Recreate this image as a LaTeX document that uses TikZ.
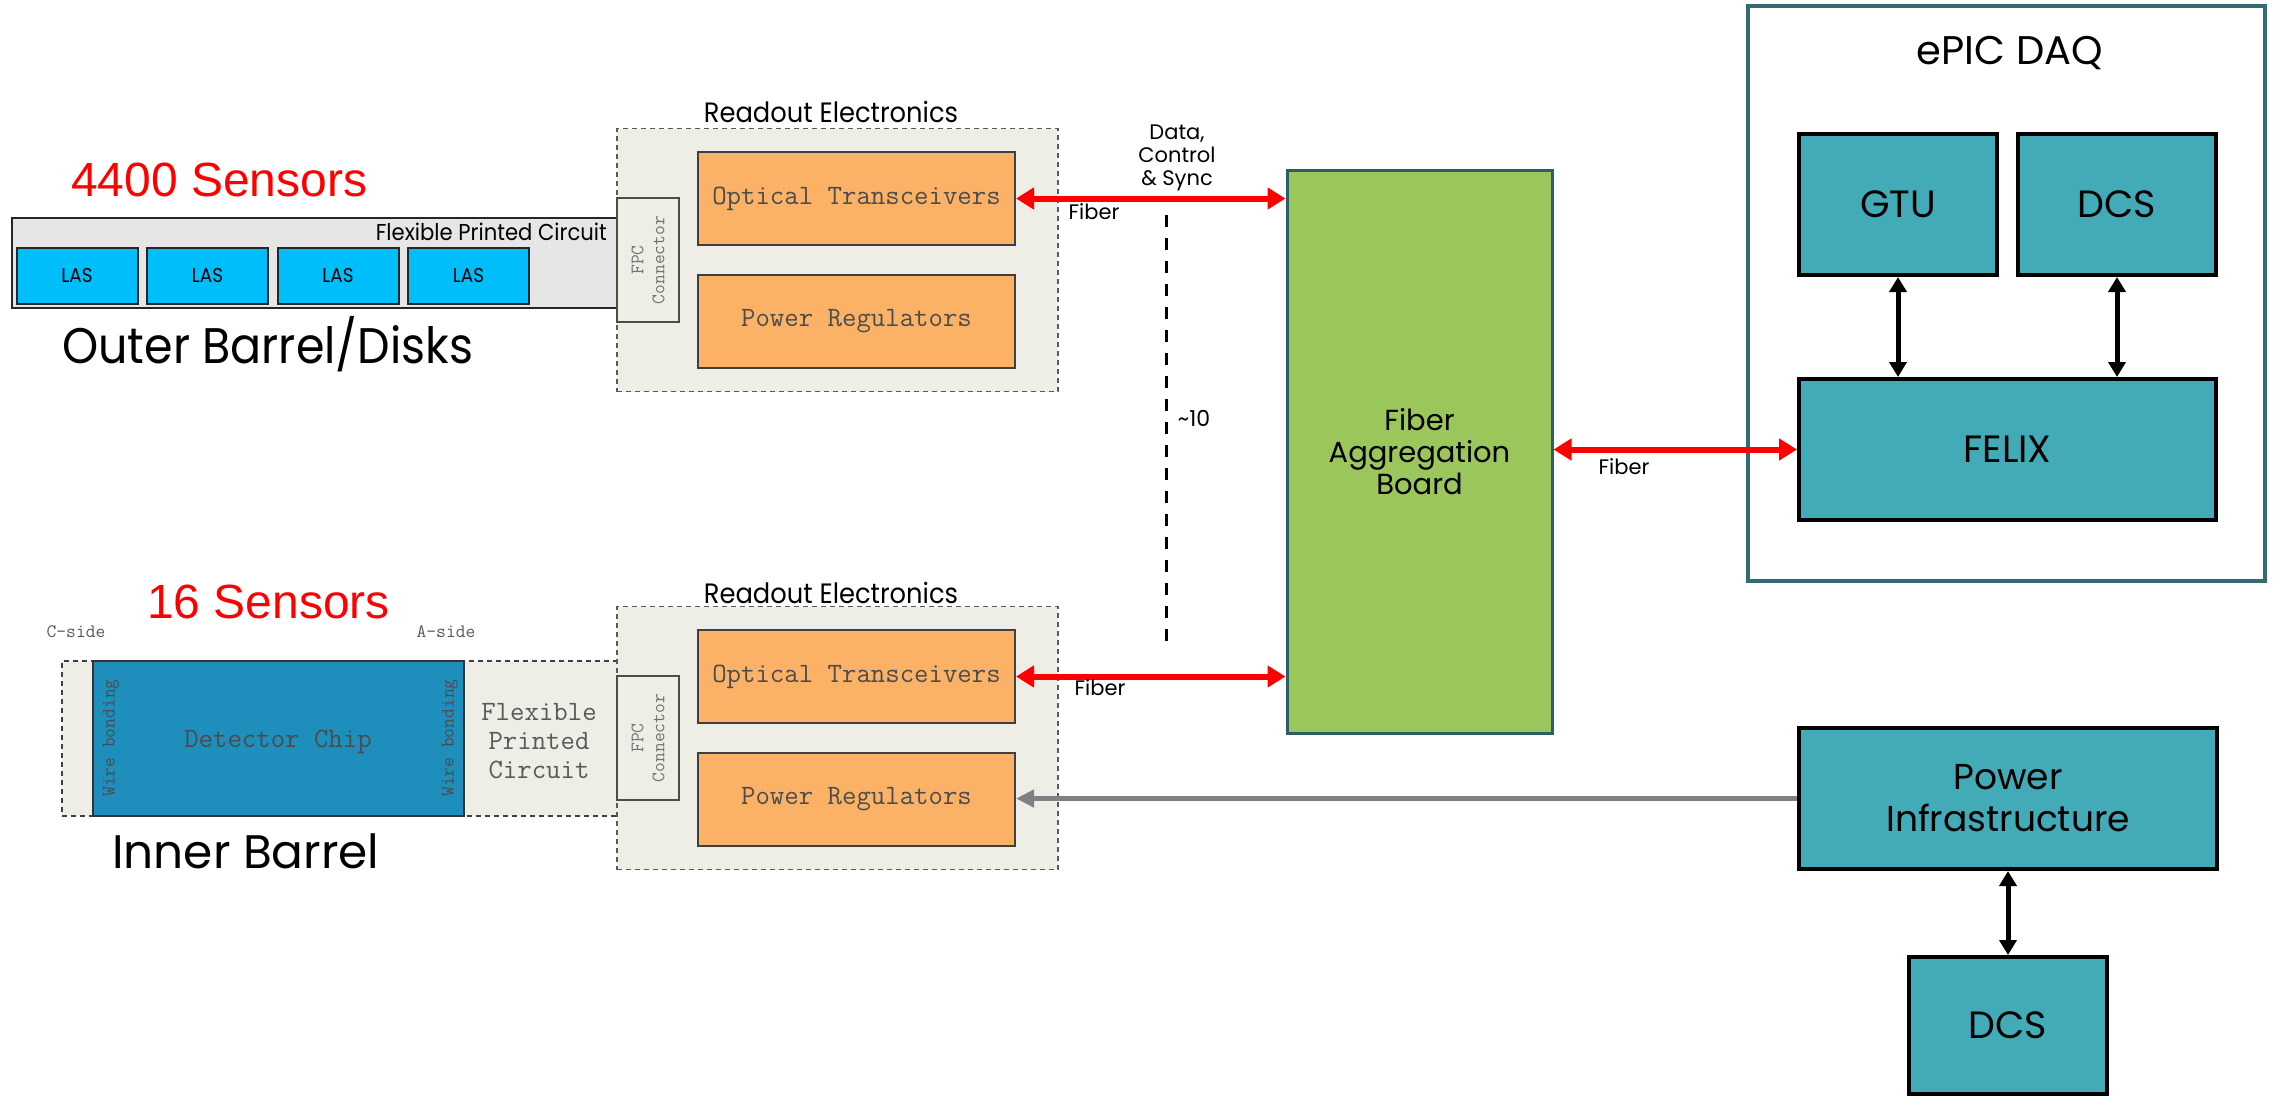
\documentclass[tikz,border=0pt]{standalone}
\usepackage{fontspec}
\setmainfont{Poppins}
\newfontfamily\gothic{Poppins}
\newfontfamily\gothicn[FakeStretch=0.92]{Poppins}
\newfontfamily\arialf{Liberation Sans}
\usetikzlibrary{arrows.meta}
\definecolor{lasblue}{RGB}{0,190,250}
\definecolor{chipblue}{RGB}{30,143,188}
\definecolor{roorange}{RGB}{252,178,102}
\definecolor{robg}{RGB}{238,238,230}
\definecolor{fpcgray}{RGB}{230,230,230}
\definecolor{fabgreen}{RGB}{155,198,92}
\definecolor{darkteal}{RGB}{45,95,104}
\definecolor{daqteal}{RGB}{66,171,183}
\definecolor{daqframe}{RGB}{51,107,115}

\begin{document}
\begin{tikzpicture}[x=1pt, y=-1pt, inner sep=0pt,
  sz/.style 2 args={minimum width=#1pt, minimum height=#2pt},
  lasbox/.style={draw=black!85, line width=2pt, fill=lasblue, sz={121}{56},
                 font=\gothicn\fontsize{20}{24}\selectfont},
  obox/.style={draw=black!75, line width=2pt, fill=roorange, sz={317}{93},
               font=\ttfamily\fontsize{28}{32}\selectfont, text=black!70},
  robox/.style={draw=black!65, line width=1.5pt, dash pattern=on 5pt off 4pt,
                fill=robg, sz={441}{263}},
  conbox/.style={draw=black!70, line width=2pt, fill=robg, sz={124}{62}, rotate=90,
                 align=center, font=\ttfamily\fontsize{19}{21}\selectfont, text=black!55},
  tbox/.style={draw=black, line width=4pt, fill=daqteal, align=center,
               font=\gothic\fontsize{38}{44}\selectfont},
  mono/.style={font=\ttfamily\fontsize{19}{22}\selectfont, text=black!65},
  lbl/.style={font=\gothic\fontsize{21}{23}\selectfont, align=center},
  rarr/.style={{Triangle[length=18pt,width=21pt]}-{Triangle[length=18pt,width=21pt]},
               red, line width=6pt},
  karr/.style={{Triangle[length=15pt,width=17pt]}-{Triangle[length=15pt,width=17pt]},
               black, line width=5pt},
  garr/.style={-{Triangle[length=18pt,width=17pt]}, black!50, line width=5pt},
]
\useasboundingbox (0,0) rectangle (2274,1096);

% outer barrel / disks
\node[draw=black!85, line width=2pt, fill=fpcgray, sz={608}{90}] (fpcout) at (316,263) {};
\foreach \i in {1,...,4}
  \node[lasbox] (las\i) at ({77+130.5*(\i-1)},276) {LAS};
\node[font=\gothicn\fontsize{23}{26}\selectfont, anchor=base east] (fpclbl) at (607,240) {Flexible Printed Circuit};
\node[font=\arialf\fontsize{48}{56}\selectfont, text=red, anchor=base west] (n4400) at (71,196) {4400 Sensors};
\node[font=\gothicn\fontsize{50}{56}\selectfont, anchor=base west] (obd) at (62,363) {Outer Barrel/Disks};

% inner barrel
\node[draw=black!75, line width=1.5pt, dash pattern=on 5pt off 4pt, fill=robg, sz={556}{155}] (fpcin) at (340,738.5) {};
\node[draw=black!80, line width=2pt, fill=chipblue, sz={371}{155}] (chip) at (278.5,738.5) {};
\node[font=\ttfamily\fontsize{28}{32}\selectfont, text=black!70] (chiplbl) at (278,742) {Detector Chip};
\node[mono, rotate=90, text=black!70] (wbl) at (111,738) {Wire bonding};
\node[mono, rotate=90, text=black!70] (wbr) at (450,738) {Wire bonding};
\node[font=\ttfamily\fontsize{28}{29}\selectfont, text=black!65, align=center] (fpcinlbl) at (539,741) {Flexible\\Printed\\Circuit};
\node[mono] (cside) at (76,632) {C-side};
\node[mono] (aside) at (446,632) {A-side};
\node[font=\arialf\fontsize{48}{56}\selectfont, text=red, anchor=base west] (n16) at (147,618) {16 Sensors};
\node[font=\gothic\fontsize{47}{54}\selectfont, anchor=base west] (ib) at (112,868) {Inner Barrel};

% readout electronics
\node[robox] (ro1) at (837.5,260) {};
\node[robox] (ro2) at (837.5,738) {};
\node[font=\gothicn\fontsize{28}{32}\selectfont, anchor=base] (ro1lbl) at (831,122) {Readout Electronics};
\node[font=\gothicn\fontsize{28}{32}\selectfont, anchor=base] (ro2lbl) at (831,603) {Readout Electronics};
\node[conbox] (fpc1) at (648,260) {FPC\\Connector};
\node[conbox] (fpc2) at (648,738) {FPC\\Connector};
\node[obox] (ot1) at (856.5,198.5) {Optical Transceivers};
\node[obox] (pr1) at (856.5,321.5) {Power Regulators};
\node[obox] (ot2) at (856.5,676.5) {Optical Transceivers};
\node[obox] (pr2) at (856.5,799.5) {Power Regulators};

% aggregation
\node[draw=darkteal, line width=3pt, fill=fabgreen, sz={265}{563}, align=center,
      font=\gothic\fontsize{29}{32}\selectfont] (fab) at (1419.5,451.5) {Fiber\\Aggregation\\Board};
\coordinate (dtop) at (1166,215);
\coordinate (dbot) at (1166,645);
\draw[line width=3pt, dash pattern=on 12pt off 11pt] (dtop) -- (dbot);
\node[lbl, font=\gothic\fontsize{22}{24}\selectfont] (n10) at (1194,418) {\textasciitilde10};
\node[lbl] (dcs) at (1177,158) {Data,\\Control\\\& Sync};
\draw[rarr] (ot1.east) -- (ot1.east -| fab.west);
\draw[rarr] (ot2.east) -- (ot2.east -| fab.west);
\node[lbl] (fib1) at (1094,212) {Fiber};
\node[lbl] (fib2) at (1100,688) {Fiber};

% ePIC DAQ
\node[draw=daqframe, line width=4pt, fill=white, sz={517}{575}] (daq) at (2006.5,293.5) {};
\node[font=\gothic\fontsize{40}{46}\selectfont, anchor=base] (daqlbl) at (2010,64) {ePIC DAQ};
\node[tbox, sz={198}{141}] (gtu) at (1898,204.5) {GTU};
\node[tbox, sz={198}{141}] (dcs1) at (2117,204.5) {DCS};
\node[tbox, sz={417}{141}] (felix) at (2007.5,449.5) {FELIX};
\draw[karr] (gtu.south) -- (gtu.south |- felix.north);
\draw[karr] (dcs1.south) -- (dcs1.south |- felix.north);
\draw[rarr] (fab.east |- felix.west) -- (felix.west);
\node[lbl] (fib3) at (1624,467) {Fiber};

% power
\node[tbox, sz={418}{141}, font=\gothic\fontsize{36}{42}\selectfont] (pinf) at (2008,798.5) {Power\\Infrastructure};
\node[tbox, sz={198}{137}] (dcs2) at (2008,1025.5) {DCS};
\draw[karr] (pinf.south) -- (dcs2.north);
\draw[garr] (pinf.west) -- (pinf.west -| pr2.east);
\end{tikzpicture}
\end{document}
